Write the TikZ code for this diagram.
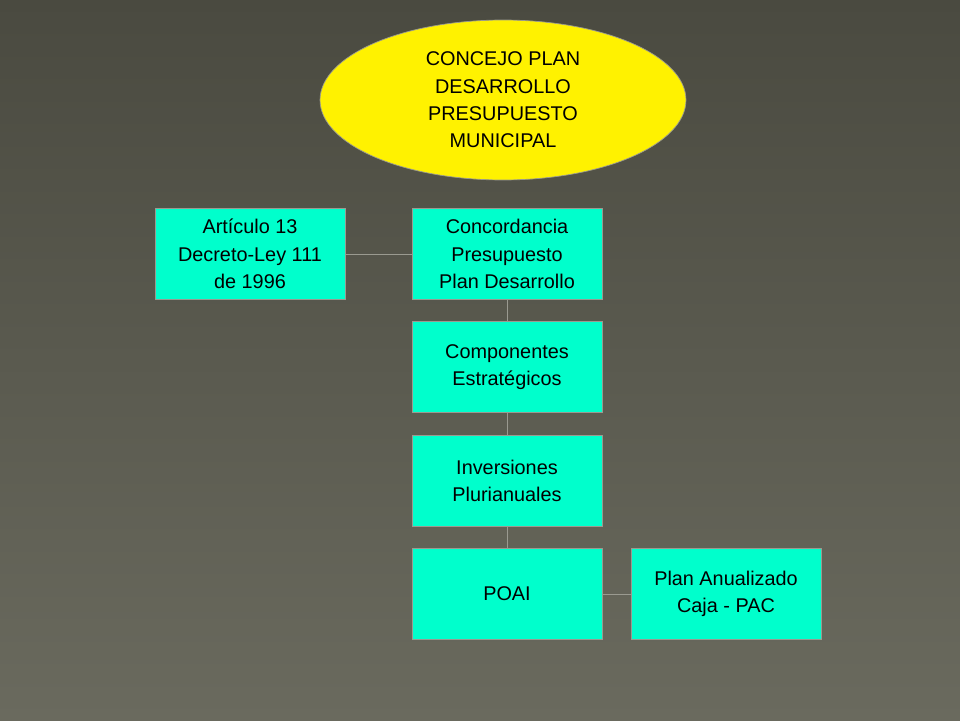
\documentclass[tikz,border=0pt]{standalone}
\usepackage{fontspec}
\setmainfont{Liberation Sans}
\usetikzlibrary{shapes.geometric}
\definecolor{bgtop}{HTML}{4A4A40}
\definecolor{bgbot}{HTML}{6A6A5E}
\definecolor{boxfill}{HTML}{00FFCC}
\definecolor{linegray}{HTML}{9A9A90}

\begin{document}
\begin{tikzpicture}[x=0.02cm,y=-0.02cm,
    stepbox/.style={rectangle, draw=linegray, fill=boxfill, minimum width=3.8cm, minimum height=1.82cm, align=center, font=\fontsize{11.3}{15.5}\selectfont},
    link/.style={draw=linegray, line width=0.5pt}]
                % background
                \shade[top color=bgtop, bottom color=bgbot] (0,0) rectangle (960,720);
                \useasboundingbox (0,0) rectangle (960,720);

                % council
                \node[ellipse, draw=linegray, fill=yellow, minimum width=7.32cm, minimum height=3.2cm, align=center,
                    font=\fontsize{11.3}{15.5}\selectfont] (concejo) at (503,100)
                    {CONCEJO PLAN\\DESARROLLO\\PRESUPUESTO\\MUNICIPAL};

                % chain of boxes
                \node[stepbox] (articulo) at (250,254) {Artículo 13\\Decreto-Ley 111\\de 1996\hspace{3.2em}};
                \node[stepbox] (concordancia) at (507,254) {Concordancia\\Presupuesto\\Plan Desarrollo};
                \node[stepbox] (componentes) at (507,367) {Componentes\\Estratégicos\hspace{0.6em}};
                \node[stepbox] (inversiones) at (507,481) {Inversiones\\Plurianuales\hspace{0.6em}};
                \node[stepbox] (poai) at (507,594) {POAI};
                \node[stepbox] (pac) at (726,594) {Plan Anualizado\\Caja - PAC};

                % connectors
                \draw[link] (articulo) -- (concordancia);
                \draw[link] (concordancia) -- (componentes);
                \draw[link] (componentes) -- (inversiones);
                \draw[link] (inversiones) -- (poai);
                \draw[link] (poai) -- (pac);
            \end{tikzpicture}
\end{document}
